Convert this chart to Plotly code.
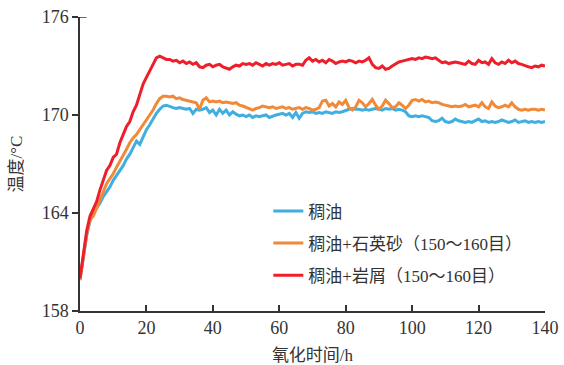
import plotly.graph_objects as go

hours = list(range(0, 141))

red_vals = [
    160.0, 161.6, 162.9, 163.8, 164.3, 164.7, 165.4, 166.0, 166.6, 166.9,
    167.4, 167.6, 168.3, 168.8, 169.3, 169.6, 170.2, 170.6, 171.3, 171.9,
    172.3, 172.7, 173.1, 173.5, 173.6, 173.5, 173.4, 173.4, 173.3, 173.35,
    173.2, 173.3, 173.15, 173.25, 173.1, 173.2, 172.95, 172.9, 173.05, 173.1,
    172.95, 173.05, 173.1, 172.95, 172.85, 172.8, 172.95, 173.05, 173.0, 173.15,
    173.1, 173.15, 173.05, 173.2, 173.1, 173.0, 173.15, 173.05, 173.15, 173.1,
    173.2, 173.05, 173.1, 173.15, 173.0, 173.1, 173.1, 173.05, 173.35, 173.5,
    173.3, 173.4, 173.25, 173.35, 173.2, 173.4, 173.3, 173.15, 173.25, 173.3,
    173.25, 173.35, 173.3, 173.2, 173.3, 173.25, 173.35, 173.5, 173.1, 172.9,
    172.85, 173.0, 172.8, 172.85, 173.0, 173.15, 173.25, 173.3, 173.35, 173.4,
    173.45, 173.4, 173.5, 173.45, 173.55, 173.5, 173.45, 173.5, 173.35, 173.2,
    173.25, 173.15, 173.2, 173.25, 173.2, 173.15, 173.1, 173.3, 173.15, 173.1,
    173.35, 173.2, 173.25, 173.1, 173.45, 173.2, 173.1, 173.25, 173.15, 173.35,
    173.2, 173.3, 173.15, 173.1, 173.0, 172.95, 172.9, 173.0, 172.95, 173.05,
    173.0,
]

orange_vals = [
    159.9, 161.4, 162.7, 163.6, 163.8, 164.3, 164.8, 165.2, 165.8, 166.1,
    166.4, 166.8, 167.2, 167.6, 167.9, 168.3, 168.6, 168.8, 169.1, 169.4,
    169.7, 170.0, 170.3, 170.7, 171.0, 171.15, 171.15, 171.1, 171.15, 171.0,
    171.05, 170.95, 170.9, 170.85, 170.8, 170.75, 170.35, 170.9, 171.05, 170.8,
    170.85, 170.8, 170.85, 170.75, 170.8, 170.75, 170.7, 170.75, 170.6, 170.55,
    170.45, 170.35, 170.3, 170.4, 170.45, 170.55, 170.5, 170.45, 170.5, 170.4,
    170.45, 170.5, 170.4, 170.45, 170.35, 170.4, 170.45, 170.35, 170.45, 170.4,
    170.3, 170.35, 170.45, 170.85, 170.9, 170.55, 170.7, 170.5, 170.8, 170.65,
    170.9, 170.45, 170.3, 170.5, 170.9, 170.75, 170.5, 170.7, 170.95, 170.6,
    170.35, 170.55, 170.9, 170.7, 170.45, 170.5, 170.75, 170.6, 170.4, 170.6,
    170.9, 170.95, 170.85, 170.95, 170.8, 170.85, 170.75, 170.8, 170.75, 170.65,
    170.6, 170.55, 170.5, 170.55, 170.5, 170.55, 170.65, 170.5, 170.55, 170.6,
    170.5, 170.75, 170.5, 170.4, 170.8, 170.55, 170.45, 170.5, 170.6, 170.5,
    170.75, 170.5, 170.35, 170.3, 170.35, 170.3, 170.35, 170.35, 170.3, 170.35,
    170.3,
]

blue_vals = [
    159.9, 161.2, 162.6, 163.5, 164.0, 164.3, 164.6, 165.0, 165.3, 165.6,
    166.0, 166.3, 166.6, 166.9, 167.3, 167.6, 168.0, 168.4, 168.2, 168.7,
    169.1, 169.4, 169.8, 170.1, 170.35, 170.55, 170.6, 170.5, 170.45, 170.4,
    170.45, 170.4, 170.35, 170.4, 170.1, 170.35, 170.3, 170.35, 170.45, 170.15,
    170.3, 170.0, 170.35, 170.1, 170.3, 170.0, 170.2, 170.05, 169.95, 170.0,
    169.9, 170.0, 169.85, 169.95, 169.9, 169.95, 170.0, 169.85, 169.95, 170.0,
    170.05, 170.1, 170.0, 170.1, 169.85, 170.15, 169.8, 170.1, 170.2, 170.15,
    170.2, 170.1, 170.15, 170.1, 170.2, 170.15, 170.1, 170.2, 170.15, 170.2,
    170.3, 170.35, 170.4, 170.35, 170.35, 170.3, 170.35, 170.3, 170.35, 170.4,
    170.35, 170.3, 170.4, 170.35, 170.4, 170.3, 170.35, 170.3, 170.2, 169.95,
    169.9, 169.95, 169.9, 169.95, 169.9, 169.85, 169.65, 169.6, 169.65, 169.8,
    169.6, 169.55, 169.6, 169.75, 169.65, 169.6, 169.55, 169.6, 169.55, 169.65,
    169.75, 169.6, 169.65, 169.55, 169.6, 169.55, 169.6, 169.7, 169.6, 169.55,
    169.6, 169.7, 169.55, 169.6, 169.65, 169.55, 169.6, 169.55, 169.6, 169.55,
    169.6,
]

series_names = ["稠油", "稠油+石英砂（150～160目）", "稠油+岩屑（150～160目）"]
series_colors = ["#3FAEE0", "#F08A38", "#EE1F2A"]
x_ticks = [0, 20, 40, 60, 80, 100, 120, 140]
y_ticks = [158, 164, 170, 176]

fig = go.Figure()
for i, (name, vals, color) in enumerate(zip(series_names, [blue_vals, orange_vals, red_vals], series_colors)):
    fig.add_trace(go.Scatter(
        x=hours, y=vals, mode="lines", name=name,
        legendgroup=f"g{i}",
        line=dict(color=color, width=3),
    ))

serif = "Liberation Serif, Noto Sans CJK SC, serif"
num_font = "Liberation Serif, serif"
fig.update_layout(
    width=564, height=365,
    margin=dict(l=80, r=19, t=17, b=54, autoexpand=False),
    plot_bgcolor="white", paper_bgcolor="white",
    font=dict(family=serif, color="#333333", size=16),
    showlegend=True,
    legend=dict(
        x=0.405, y=0.40, xanchor="left", yanchor="top",
        bgcolor="rgba(0,0,0,0)",
        font=dict(family=serif, size=17, color="#333333"),
        tracegroupgap=7,
        itemwidth=30,
    ),
    xaxis=dict(
        range=[0, 140], tickvals=x_ticks, showgrid=False, zeroline=False,
        showline=True, linecolor="#333333", linewidth=1.5,
        ticks="inside", ticklen=6, tickcolor="#333333", tickwidth=1.5,
        tickfont=dict(family=num_font, size=18, color="#333333"),
        automargin=False,
        title=dict(text="氧化时间/h", font=dict(family=serif, size=17, color="#333333")),
    ),
    yaxis=dict(
        range=[158, 176], tickvals=y_ticks, showgrid=False, zeroline=False,
        showline=True, linecolor="#333333", linewidth=1.5,
        ticks="outside", ticklen=6, tickcolor="#333333", tickwidth=1.5,
        tickfont=dict(family=num_font, size=18, color="#333333"),
        automargin=False,
        title=dict(text="温度/°C", font=dict(family=serif, size=17, color="#333333")),
    ),
)
fig.add_shape(type="line", xref="x domain", yref="y", x0=0, x1=0.014, y0=176, y1=176,
              line=dict(color="#333333", width=1.5))

fig.write_html("out.html", config={"displayModeBar": False},
               post_script="document.body.style.margin='0';document.body.style.padding='0';")
